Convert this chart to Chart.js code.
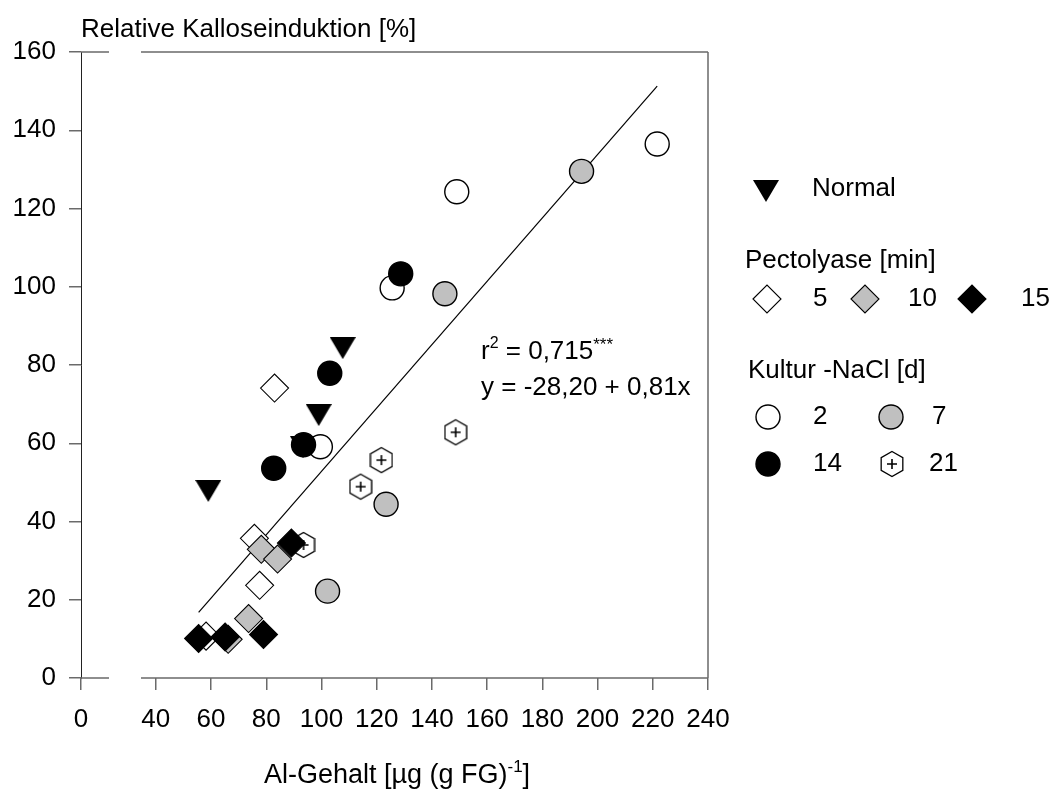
<!DOCTYPE html>
<html>
<head>
<meta charset="utf-8">
<title>Relative Kalloseinduktion</title>
<script src="https://cdn.jsdelivr.net/npm/chart.js@4/dist/chart.umd.min.js"></script>
<style>
  html, body { margin: 0; padding: 0; background: #fff; }
  #wrap { width: 1054px; height: 790px; }
</style>
</head>
<body>
<div id="wrap"><canvas id="callose" width="1054" height="790"></canvas></div>
<script>
// Al content (x) against relative callose induction (y), grouped by treatment
const normalX   = [59.0, 93.3, 99.0, 107.7];
const normalY   = [47.8, 59.0, 67.2, 84.3];

const pect5X    = [58.2, 75.7, 77.6, 83.0];
const pect5Y    = [10.7, 35.7, 23.7, 74.1];
const pect10X   = [66.2, 73.6, 78.2, 84.1];
const pect10Y   = [9.9, 15.2, 32.9, 30.4];
const pect15X   = [55.5, 65.1, 79.0, 89.1];
const pect15Y   = [10.1, 10.5, 11.1, 34.5];

const kultur2X  = [99.6, 125.6, 149.0, 221.6];
const kultur2Y  = [59.1, 99.7, 124.3, 136.5];
const kultur7X  = [102.2, 123.4, 144.7, 194.2];
const kultur7Y  = [22.2, 44.4, 98.2, 129.5];
const kultur14X = [82.7, 93.5, 103.0, 128.7];
const kultur14Y = [53.6, 59.6, 77.9, 103.3];
const kultur21X = [93.5, 114.2, 121.7, 148.6];
const kultur21Y = [34.0, 48.9, 55.7, 62.8];

// regression y = a + b*x, drawn over the range of the data
const fitIntercept = -28.20;
const fitSlope = 0.81;
const fitRange = [55.5, 221.6];

// broken x axis: the "0" sits at X_ORIGIN, the axis is interrupted between the break values
const X_ORIGIN = 12.9;
const X_BREAK = [23.1, 34.7];
const xTickValues = [X_ORIGIN, 40, 60, 80, 100, 120, 140, 160, 180, 200, 220, 240];
const xTickLabels = ['0', '40', '60', '80', '100', '120', '140', '160', '180', '200', '220', '240'];
const yTickValues = [0, 20, 40, 60, 80, 100, 120, 140, 160];

const FONT = '"Liberation Sans", Arial, Helvetica, sans-serif';
const AXIS_GREY = '#6a6a6a';
const GREY_FILL = '#c0c0c0';

function zip(xs, ys) {
    return xs.map((x, i) => ({ x: x, y: ys[i] }));
}

// filled down-pointing triangle, centred on its bounding box
function makeTriangle() {
    const c = document.createElement('canvas');
    c.width = 26; c.height = 22;
    const g = c.getContext('2d');
    g.fillStyle = '#000';
    g.beginPath();
    g.moveTo(0, 0);
    g.lineTo(26, 0);
    g.lineTo(13, 22);
    g.closePath();
    g.fill();
    return c;
}

// open hexagon with a plus inside
function makeHexagon() {
    const c = document.createElement('canvas');
    c.width = 24; c.height = 28;
    const g = c.getContext('2d');
    const cx = 12, cy = 14, r = 12.5;
    g.beginPath();
    for (let k = 0; k < 6; k++) {
        const a = -Math.PI / 2 + k * Math.PI / 3;
        const px = cx + r * Math.cos(a), py = cy + r * Math.sin(a);
        if (k === 0) g.moveTo(px, py); else g.lineTo(px, py);
    }
    g.closePath();
    g.fillStyle = '#fff';
    g.fill();
    g.lineWidth = 1.3;
    g.strokeStyle = '#000';
    g.stroke();
    g.lineWidth = 1.6;
    g.beginPath();
    g.moveTo(cx - 5, cy); g.lineTo(cx + 5, cy);
    g.moveTo(cx, cy - 5); g.lineTo(cx, cy + 5);
    g.stroke();
    return c;
}

const triangleImg = makeTriangle();
const hexagonImg = makeHexagon();

function circleSet(label, xs, ys, fill, order) {
    return {
        label: label, data: zip(xs, ys), order: order,
        pointStyle: 'circle', pointRadius: 12, pointHoverRadius: 12,
        backgroundColor: fill, borderColor: '#000', borderWidth: 1.4
    };
}

function diamondSet(label, xs, ys, fill, order) {
    return {
        label: label, data: zip(xs, ys), order: order,
        pointStyle: 'rectRot', pointRadius: 14, pointHoverRadius: 14,
        backgroundColor: fill, borderColor: '#000', borderWidth: 1.1
    };
}

const fitLine = fitRange.map(x => ({ x: x, y: fitIntercept + fitSlope * x }));

// lower order is drawn on top
const datasets = [
    diamondSet('15', pect15X, pect15Y, '#000', 1),
    diamondSet('10', pect10X, pect10Y, GREY_FILL, 2),
    diamondSet('5', pect5X, pect5Y, '#fff', 3),
    circleSet('14', kultur14X, kultur14Y, '#000', 4),
    circleSet('7', kultur7X, kultur7Y, GREY_FILL, 5),
    circleSet('2', kultur2X, kultur2Y, '#fff', 6),
    {
        label: '21', data: zip(kultur21X, kultur21Y), order: 7,
        pointStyle: hexagonImg, pointRadius: 12, pointHoverRadius: 12
    },
    {
        label: 'Normal', data: zip(normalX, normalY), order: 8,
        pointStyle: triangleImg, pointRadius: 13, pointHoverRadius: 13
    },
    {
        type: 'line', label: 'fit', data: fitLine, order: 9,
        showLine: true, pointRadius: 0, pointHoverRadius: 0,
        borderColor: '#000', borderWidth: 1.2, fill: false
    }
];

function font(size) {
    return size + 'px ' + FONT;
}

// text with raised, smaller runs; returns the x after drawing
function drawRun(ctx, parts, x, y, base) {
    parts.forEach(p => {
        ctx.font = font(p.size || base || 26);
        ctx.fillText(p.text, x, y - (p.rise || 0));
        x += ctx.measureText(p.text).width;
    });
    return x;
}

function legendMarker(ctx, kind, fill, x, y) {
    ctx.save();
    ctx.fillStyle = fill;
    ctx.strokeStyle = '#000';
    ctx.beginPath();
    if (kind === 'circle') {
        ctx.lineWidth = 1.4;
        ctx.arc(x, y, 12, 0, Math.PI * 2);
        ctx.fill(); ctx.stroke();
    } else if (kind === 'diamond') {
        ctx.lineWidth = 1.1;
        ctx.moveTo(x - 14, y); ctx.lineTo(x, y - 14);
        ctx.lineTo(x + 14, y); ctx.lineTo(x, y + 14);
        ctx.closePath();
        ctx.fill(); ctx.stroke();
    } else {
        ctx.drawImage(kind, x - kind.width / 2, y - kind.height / 2);
    }
    ctx.restore();
}

const decorations = {
    id: 'decorations',
    beforeDatasetsDraw(chart) {
        const ctx = chart.ctx;
        const xs = chart.scales.x;
        const a = chart.chartArea;
        const b1 = Math.round(xs.getPixelForValue(X_BREAK[0]));
        const b2 = Math.round(xs.getPixelForValue(X_BREAK[1]));
        ctx.save();
        ctx.strokeStyle = AXIS_GREY;
        ctx.lineWidth = 1.5;
        ctx.beginPath();
        // bottom axis and top frame, both broken
        [a.bottom, a.top].forEach(y => {
            ctx.moveTo(a.left, y); ctx.lineTo(b1, y);
            ctx.moveTo(b2, y); ctx.lineTo(a.right, y);
        });
        // right frame
        ctx.moveTo(a.right, a.top); ctx.lineTo(a.right, a.bottom);
        ctx.stroke();
        ctx.restore();
    },
    afterDraw(chart) {
        const ctx = chart.ctx;
        ctx.save();
        ctx.fillStyle = '#000';
        ctx.textAlign = 'left';

        // axis titles
        ctx.textBaseline = 'middle';
        ctx.font = font(26);
        ctx.fillText('Relative Kalloseinduktion [%]', 81, 30);

        ctx.textBaseline = 'alphabetic';
        const xParts = [
            { text: 'Al-Gehalt [µg (g FG)' },
            { text: '-1', size: 17, rise: 11 },
            { text: ']' }
        ];
        let w = 0;
        xParts.forEach(p => { ctx.font = font(p.size || 27); w += ctx.measureText(p.text).width; });
        drawRun(ctx, xParts, 397 - w / 2, 783, 27);

        // regression statistics
        drawRun(ctx, [
            { text: 'r' },
            { text: '2', size: 16, rise: 11 },
            { text: ' = 0,715' },
            { text: '***', size: 17, rise: 9 }
        ], 481, 359);
        drawRun(ctx, [{ text: 'y = -28,20 + 0,81x' }], 481, 395);

        // legend
        ctx.textBaseline = 'middle';
        ctx.font = font(26);
        legendMarker(ctx, triangleImg, '#000', 766, 191);
        ctx.fillText('Normal', 812, 189);

        ctx.fillText('Pectolyase [min]', 745, 261);
        legendMarker(ctx, 'diamond', '#fff', 767, 299);
        ctx.fillText('5', 813, 299);
        legendMarker(ctx, 'diamond', GREY_FILL, 865, 299);
        ctx.fillText('10', 908, 299);
        legendMarker(ctx, 'diamond', '#000', 972, 299);
        ctx.fillText('15', 1021, 299);

        ctx.fillText('Kultur -NaCl [d]', 748, 371);
        legendMarker(ctx, 'circle', '#fff', 768, 417);
        ctx.fillText('2', 813, 417);
        legendMarker(ctx, 'circle', GREY_FILL, 891, 417);
        ctx.fillText('7', 932, 417);
        legendMarker(ctx, 'circle', '#000', 768, 464);
        ctx.fillText('14', 813, 464);
        legendMarker(ctx, hexagonImg, '#fff', 892, 464);
        ctx.fillText('21', 929, 464);
        ctx.restore();
    }
};

Chart.defaults.font.family = FONT;
Chart.defaults.color = '#000';

new Chart(document.getElementById('callose').getContext('2d'), {
    type: 'scatter',
    data: { datasets: datasets },
    options: {
        responsive: false,
        animation: false,
        layout: { padding: { top: 52, right: 346, left: 0, bottom: 0 } },
        plugins: {
            legend: { display: false },
            tooltip: { enabled: false }
        },
        scales: {
            x: {
                type: 'linear',
                min: X_ORIGIN,
                max: 240,
                afterBuildTicks: s => { s.ticks = xTickValues.map(v => ({ value: v })); },
                afterFit: s => { s.height = 112; },
                ticks: {
                    autoSkip: false,
                    maxRotation: 0,
                    padding: 14,
                    color: '#000',
                    font: { size: 26 },
                    callback: (v, i) => xTickLabels[i]
                },
                grid: { drawOnChartArea: false, tickLength: 12, color: AXIS_GREY, lineWidth: 1.5 },
                border: { display: false }
            },
            y: {
                type: 'linear',
                min: 0,
                max: 160,
                afterBuildTicks: s => { s.ticks = yTickValues.map(v => ({ value: v })); },
                afterFit: s => { s.width = 81; },
                ticks: { padding: 13, color: '#000', font: { size: 26 } },
                grid: { drawOnChartArea: false, tickLength: 12, color: AXIS_GREY, lineWidth: 1.5 },
                border: { color: '#222', width: 1 }
            }
        }
    },
    plugins: [decorations]
});
</script>
</body>
</html>
